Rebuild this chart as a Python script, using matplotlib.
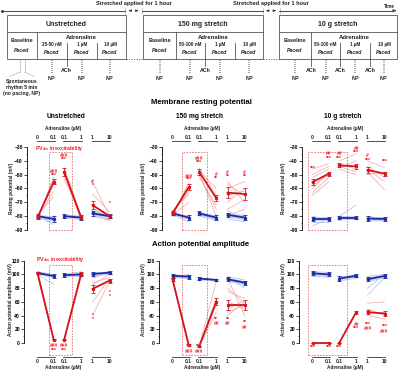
import matplotlib.pyplot as plt
from matplotlib.patches import Rectangle
from matplotlib.transforms import blended_transform_factory

plt.rcParams['font.family'] = ['Liberation Sans', 'DejaVu Sans']
plt.rcParams['font.weight'] = 'bold'
plt.rcParams['mathtext.fontset'] = 'custom'
plt.rcParams['mathtext.rm'] = 'Liberation Sans:bold'
plt.rcParams['mathtext.bf'] = 'Liberation Sans:bold'

W, H = 400, 373

# ---------------- data ----------------
conc_labels = ['0', '0.1', '0.1', '1', '1', '10']
group_x = [[0, 1], [1.65, 2.7], [3.4, 4.45]]

# resting potential (mV) - unstretched
rp_un_red = [[-81, -55], [-48, -81], [-72, -80]]
rp_un_blue = [[-80, -82], [-80, -81], [-78, -80]]
rp_un_red_sem = [[1, 2], [3, 1], [3, 1]]
rp_un_blue_sem = [[1.5, 2], [1.5, 1.5], [2, 1.5]]
rp_un_red_ind = [[[-80, -58], [-82, -52], [-79, -66], [-81, -62]],
                 [[-45, -80], [-50, -83], [-53, -80]],
                 [[-55, -80], [-64, -77], [-74, -82], [-80, -83]]]
rp_un_blue_ind = [[[-79, -83], [-81, -80], [-80, -86]],
                  [[-79, -80], [-81, -82], [-80, -81]],
                  [[-76, -79], [-79, -82], [-78, -81], [-77, -83]]]
rp_un_sig = [(1, -47.8, '###'), (1, -50.7, '***'), (2, -36.5, '###'), (2, -39.3, '***'),
             (4, -54.6, '#'), (4, -57.5, '*'), (5, -71, '*')]

# resting potential (mV) - 150 mg stretch
rp_150_red = [[-78, -59], [-48, -67], [-63, -64]]
rp_150_blue = [[-78, -81], [-78, -81], [-79, -81]]
rp_150_red_sem = [[1, 2], [2, 2], [4, 4]]
rp_150_blue_sem = [[1.5, 1.5], [1.5, 1.5], [1.5, 2]]
rp_150_red_ind = [[[-78, -62], [-80, -56], [-76, -64], [-79, -70], [-77, -60]],
                  [[-45, -65], [-50, -75], [-52, -72], [-47, -60], [-49, -80]],
                  [[-55, -70], [-57, -65], [-60, -55], [-70, -60], [-75, -68], [-65, -62], [-80, -75]]]
rp_150_blue_ind = [[[-76, -82], [-80, -80], [-79, -84]],
                   [[-77, -80], [-80, -83]],
                   [[-76, -82], [-80, -79], [-82, -84]]]
rp_150_sig = [(1, -51, '###'), (1, -53.7, '***'), (2, -38, '###'), (2, -41, '***'),
              (3, -50, '#'), (3, -53, '**'), (4, -48.6, '#'), (4, -51.6, '**'),
              (5, -48.6, '#'), (5, -51.6, '**')]

# resting potential (mV) - 10 g stretch
rp_10g_red = [[-55.4, -49.3], [-43.3, -44], [-46.6, -49.3]]
rp_10g_blue = [[-82, -82], [-81, -81], [-81.7, -82]]
rp_10g_red_sem = [[2, 1.5], [1.5, 2], [2, 1.5]]
rp_10g_blue_sem = [[1.5, 1.5], [1.2, 1.2], [1.5, 1.5]]
rp_10g_red_ind = [[[-46, -42], [-50, -44], [-52, -46], [-58, -50], [-60, -48], [-63, -52], [-65, -55]],
                  [[-40, -35], [-42, -46], [-45, -40], [-44, -48], [-46, -50]],
                  [[-40, -45], [-44, -52], [-46, -55], [-48, -61], [-50, -48]]]
rp_10g_blue_ind = [[[-87, -82], [-84, -84], [-80, -83]],
                   [[-80, -72], [-82, -81], [-83, -82]],
                   [[-80, -82], [-83, -83], [-82, -81]]]
rp_10g_sig = [(0, -45.4, '***'), (1, -35, '##'), (1, -38, '***'), (2, -35, '##'), (2, -38, '***'),
              (3, -31, '##'), (3, -33.6, '***'), (4, -36, '#'), (4, -39.6, '***'), (5, -40.6, '***')]

# action potential amplitude (mV) - unstretched
ap_un_red = [[102, 5], [5, 101], [79, 91]]
ap_un_blue = [[102, 97.7], [99, 100], [100.6, 102.6]]
ap_un_red_sem = [[2, 1], [1, 2], [6, 3]]
ap_un_blue_sem = [[2, 3], [3, 2], [3, 2]]
ap_un_red_ind = [[[100, 3], [104, 5], [98, 4]],
                 [[4, 98], [5, 103], [6, 100]],
                 [[40, 90], [85, 100], [88, 95], [60, 93], [95, 102]]]
ap_un_blue_ind = [[[104, 100], [100, 86], [101, 95]],
                  [[97, 102], [99, 96], [100, 104]],
                  [[97, 105], [101, 100], [103, 103]]]
ap_un_sig = [(1, -4, '###'), (1, -10.5, '***'), (2, -4, '###'), (2, -10.5, '***'),
             (4, 40, '*'), (4, 34, '*'), (5, 74, '*'), (5, 68, '*')]

# action potential amplitude (mV) - 150 mg stretch
ap_150_red = [[93, -3], [-5, 60], [55, 55]]
ap_150_blue = [[98, 96.8], [94, 92], [93, 88]]
ap_150_red_sem = [[2, 1], [1, 5], [7, 7]]
ap_150_blue_sem = [[3, 3], [2, 2], [3, 3]]
ap_150_red_ind = [[[92, -4], [95, -6], [90, -3]],
                  [[-4, 90], [-6, 55], [-5, 45], [-5, 65]],
                  [[95, 40], [75, 65], [60, 50], [40, 60], [45, 55], [50, 62], [80, 58]]]
ap_150_blue_ind = [[[100, 95], [95, 100], [99, 98]],
                   [[95, 92], [93, 91]],
                   [[95, 80], [90, 85], [97, 92]]]
ap_150_sig = [(1, -4.5, '***'), (1, -12, '###'), (2, -4.5, '***'), (2, -12, '###'),
              (3, 35, '**'), (3, 28, '##'), (4, 35, '**'), (4, 28, '##'),
              (5, 30, '**'), (5, 23, '##')]

# action potential amplitude (mV) - 10 g stretch
ap_10g_red = [[0, 0], [0, 45], [45, 43]]
ap_10g_blue = [[101.6, 100], [94, 98], [93, 97.7]]
ap_10g_red_sem = [[0, 0], [0, 2], [3, 3]]
ap_10g_blue_sem = [[3, 3], [3, 2], [3, 3]]
ap_10g_red_ind = [[[0, 0]],
                  [[0, 44], [0, 46]],
                  [[58, 60], [50, 40], [40, 35], [45, 44]]]
ap_10g_blue_ind = [[[104, 103], [97, 96], [100, 100]],
                   [[90, 95], [96, 100], [92, 99]],
                   [[70, 95], [80, 100], [97, 100], [90, 96]]]
ap_10g_sig = [(0, -6, '***'), (1, -6, '***'), (2, -6, '***'), (3, 27.6, '##'), (3, 21, '***'),
              (4, 27.6, '***'), (4, 21, '###'), (5, 24, '***'), (5, 17, '###')]

# ---------------- style ----------------
dark_red = '#d3141b'
light_red = '#f3a3a3'
dark_blue = '#1c2aa6'
light_blue = '#a9bbe4'
band_blue = '#c8d4f2'
sig_red = '#e8262b'
rect_red = '#e36b6b'
ink = '#222222'

fig = plt.figure(figsize=(W / 100, H / 100), dpi=100)

# overlay for the scheme and free text, in pixel units
sk = fig.add_axes([0, 0, 1, 1])
sk.set_xlim(0, W)
sk.set_ylim(H, 0)
sk.axis('off')


def px_axes(x0, y0, x1, y1):
    return fig.add_axes([x0 / W, 1 - y1 / H, (x1 - x0) / W, (y1 - y0) / H])


# ---------------- top scheme ----------------
line_kw = dict(color='#555555', lw=0.6)
dot_kw = dict(color='#888888', lw=0.6, ls=(0, (1, 1)))

# time line
for a, b in [(2, 125), (142, 263), (279, 393)]:
    sk.plot([a, b], [10.7, 10.7], color='#444444', lw=0.7)
sk.plot([2], [10.7], marker='o', ms=1.2, color='#444444')
sk.annotate('', xy=(399, 10.7), xytext=(392, 10.7),
            arrowprops=dict(arrowstyle='-|>', lw=0.7, color='#444444', mutation_scale=4))
for c in [133.5, 271]:
    for x in [c - 8.5, c + 8.5]:
        sk.plot([x, x], [7.5, 14], **dot_kw)
    sk.annotate('', xy=(c - 7.5, 10.7), xytext=(c - 1, 10.7),
                arrowprops=dict(arrowstyle='-|>', lw=0.5, color='#333333', mutation_scale=3.5))
    sk.annotate('', xy=(c + 7.5, 10.7), xytext=(c + 1, 10.7),
                arrowprops=dict(arrowstyle='-|>', lw=0.5, color='#333333', mutation_scale=3.5))
    sk.text(c, 3.8, 'Stretched applied for 1 hour', ha='center', va='center', fontsize=4.1, color=ink)
sk.text(389, 6.3, 'Time', ha='center', va='center', fontsize=3.3, color=ink)

boxes = [
    dict(l=6.7, r=126, title='Unstretched', div=37.3, subs=[66.7, 96.7],
         labels=['25-50 nM', '1 µM', '10 µM'], sx=[51.7, 81.7, 110], bx=22, ax_=81.7,
         ach=[66.7], np_base=False),
    dict(l=143.3, r=263.3, title='150 mg stretch', div=175.7, subs=[205, 235],
         labels=['50-100 nM', '1 µM', '10 µM'], sx=[190, 220, 249], bx=160, ax_=213,
         ach=[205], np_base=True),
    dict(l=279.3, r=397, title='10 g stretch', div=311, subs=[340, 370],
         labels=['50-100 nM', '1 µM', '10 µM'], sx=[325.5, 355, 384], bx=295, ax_=354,
         ach=[311, 340, 370], np_base=True),
]
top, mid, bot = 15, 31.7, 59
for b in boxes:
    sk.add_patch(Rectangle((b['l'], top), b['r'] - b['l'], bot - top, fill=False,
                           ec='#555555', lw=0.6))
    sk.plot([b['l'], b['r']], [mid, mid], **line_kw)
    sk.text((b['l'] + b['r']) / 2, 24, b['title'], ha='center', va='center', fontsize=5, color=ink)
    sk.plot([b['div'], b['div']], [mid, bot], **line_kw)
    for s in b['subs']:
        sk.plot([s, s], [42.7, bot], **line_kw)
    for a in b['ach']:
        sk.plot([a, a], [bot, 66], **line_kw)
        sk.text(a, 70.5, 'ACh', ha='center', va='center', fontsize=3.8, color=ink)
    sk.text(b['bx'], 40, 'Baseline', ha='center', va='center', fontsize=4, color=ink)
    sk.text(b['bx'], 50.5, 'Paced', ha='center', va='center', fontsize=3.8, style='italic', color=ink)
    sk.text(b['ax_'], 37.5, 'Adrenaline', ha='center', va='center', fontsize=4.3, color=ink)
    for x, lab in zip(b['sx'], b['labels']):
        sk.text(x, 44.5, lab, ha='center', va='center', fontsize=3.3, color=ink)
        sk.text(x, 52.3, 'Paced', ha='center', va='center', fontsize=3.8, style='italic', color=ink)
    nps = b['sx'] + ([b['bx']] if b['np_base'] else [])
    for x in nps:
        sk.plot([x, x], [60, 73.5], color='#999999', lw=1.2, ls=(0, (0.6, 0.6)))
        sk.text(x, 79, 'NP', ha='center', va='center', fontsize=4, color=ink)

# dotted links between boxes
sk.plot([126, 143.3], [bot, bot], color='#555555', lw=0.6, ls=(0, (1.5, 1.5)))
sk.plot([263.3, 279.3], [bot, bot], color='#555555', lw=0.6, ls=(0, (1.5, 1.5)))

# spontaneous rhythm bracket
for x in [20, 24.5]:
    sk.plot([x, x], [60, 72], **dot_kw)
sk.plot([20, 10], [72, 76.5], **dot_kw)
sk.plot([24.5, 34], [72, 76.5], **dot_kw)
for y, t in [(82, 'Spontaneous'), (87.5, 'rhythm 5 min'), (93, '(no pacing, NP)')]:
    sk.text(22, y, t, ha='center', va='center', fontsize=3.6, color=ink)

# ---------------- titles ----------------
sk.text(201, 103, 'Membrane resting potential', ha='center', va='center', fontsize=5.6, color='black')
sk.text(201, 244, 'Action potential amplitude', ha='center', va='center', fontsize=5.6, color='black')
for cx, t in [(66, 'Unstretched'), (200, '150 mg stretch'), (343, '10 g stretch')]:
    sk.text(cx, 116.7, t, ha='center', va='center', fontsize=4.8, color='black')
for cx in [63, 202, 345]:
    sk.text(cx, 128.3, 'Adrenaline (µM)', ha='center', va='center', fontsize=3.4, color=ink)
    sk.text(cx, 367.5, 'Adrenaline (µM)', ha='center', va='center', fontsize=3.4, color=ink)
for x in [12, 144, 283.5]:
    sk.text(x, 188, 'Resting potential (mV)', ha='center', va='center', rotation=90,
            fontsize=3.4, color=ink)
for x in [10.5, 143, 283]:
    sk.text(x, 300, 'Action potential amplitude (mV)', ha='center', va='center', rotation=90,
            fontsize=3.4, color=ink)

# ---------------- panels ----------------
panel_x = [(27, 116), (162, 251), (302, 391)]
rp_panels = [
    (rp_un_red, rp_un_blue, rp_un_red_sem, rp_un_blue_sem, rp_un_red_ind, rp_un_blue_ind, rp_un_sig, (0.68, 2.16)),
    (rp_150_red, rp_150_blue, rp_150_red_sem, rp_150_blue_sem, rp_150_red_ind, rp_150_blue_ind, rp_150_sig, (0.56, 2.13)),
    (rp_10g_red, rp_10g_blue, rp_10g_red_sem, rp_10g_blue_sem, rp_10g_red_ind, rp_10g_blue_ind, rp_10g_sig, (-0.31, 2.16)),
]
ap_panels = [
    (ap_un_red, ap_un_blue, ap_un_red_sem, ap_un_blue_sem, ap_un_red_ind, ap_un_blue_ind, ap_un_sig, (0.68, 2.16)),
    (ap_150_red, ap_150_blue, ap_150_red_sem, ap_150_blue_sem, ap_150_red_ind, ap_150_blue_ind, ap_150_sig, (0.56, 2.13)),
    (ap_10g_red, ap_10g_blue, ap_10g_red_sem, ap_10g_blue_sem, ap_10g_red_ind, ap_10g_blue_ind, ap_10g_sig, (-0.31, 2.16)),
]
flat_x = [x for g in group_x for x in g]


def draw_panel(ax, red, blue, red_sem, blue_sem, red_ind, blue_ind, sig, rect_x, kind):
    for g, xs in enumerate(group_x):
        for p in blue_ind[g]:
            ax.plot(xs, p, color=light_blue, lw=0.5, zorder=1)
        for p in red_ind[g]:
            ax.plot(xs, p, color=light_red, lw=0.5, zorder=1)
        lo = [m - s for m, s in zip(blue[g], blue_sem[g])]
        hi = [m + s for m, s in zip(blue[g], blue_sem[g])]
        ax.fill_between(xs, lo, hi, color=band_blue, lw=0, zorder=2)
        ax.errorbar(xs, blue[g], yerr=blue_sem[g], color=dark_blue, lw=1.3, elinewidth=0.6,
                    capsize=1.2, capthick=0.6, marker='s', ms=1.3, zorder=4, clip_on=False)
        ax.errorbar(xs, red[g], yerr=red_sem[g], color=dark_red, lw=1.3, elinewidth=0.6,
                    capsize=1.2, capthick=0.6, marker='s', ms=1.3, zorder=5, clip_on=False)
    for i, y, t in sig:
        ax.text(flat_x[i], y, t, ha='center', va='center', fontsize=3.6, color=sig_red,
                zorder=6, clip_on=False)
    if kind == 'rp':
        ax.set_ylim(-90, -30)
        ax.set_yticks(range(-90, -29, 10))
        ax.set_yticks(range(-90, -29, 5), minor=True)
        ax.spines['left'].set_bounds(-90, -30)
        ry0, ry1 = -90, -33.6
        gy, ly = 1.072, 1.12
    else:
        ax.set_ylim(-20, 120)
        ax.set_yticks(range(0, 121, 20))
        ax.set_yticks(range(0, 121, 10), minor=True)
        ax.spines['left'].set_bounds(0, 120)
        ax.spines['left'].set_position(('outward', 2))
        ry0, ry1 = -17.6, 114
        gy, ly = 0.0, -0.055
    ax.add_patch(Rectangle((rect_x[0], ry0), rect_x[1] - rect_x[0], ry1 - ry0, fill=False,
                           ec=rect_red, lw=0.6, ls=(0, (2, 1.5)), zorder=3, clip_on=False))
    tr = blended_transform_factory(ax.transData, ax.transAxes)
    for xs in group_x:
        ax.plot([xs[0] - 0.05, xs[1] + 0.05], [gy, gy], color='#333333', lw=0.6,
                transform=tr, clip_on=False)
    for x, lab in zip(flat_x, conc_labels):
        ax.text(x, ly, lab, transform=tr, ha='center', va='center', fontsize=3.6, color=ink)
    ax.set_xlim(-0.65, 4.85)
    ax.set_xticks([])
    for s in ['top', 'right', 'bottom']:
        ax.spines[s].set_visible(False)
    ax.spines['left'].set_linewidth(0.6)
    ax.tick_params(axis='y', which='major', length=2, width=0.5, labelsize=3.6, pad=1)
    ax.tick_params(axis='y', which='minor', length=1, width=0.4)
    ax.patch.set_alpha(0)


for (x0, x1), args in zip(panel_x, rp_panels):
    draw_panel(px_axes(x0, 147, x1, 230), *args, 'rp')
for (x0, x1), args in zip(panel_x, ap_panels):
    draw_panel(px_axes(x0, 260.7, x1, 356.7), *args, 'ap')

pv = r'PV$_{\mathbf{dis}}$ inexcitability'
sk.text(59, 148.5, pv, ha='center', va='center', fontsize=3.9, color=sig_red)
sk.text(60, 260, pv, ha='center', va='center', fontsize=3.9, color=sig_red)

fig.savefig('out.png', dpi=100)
